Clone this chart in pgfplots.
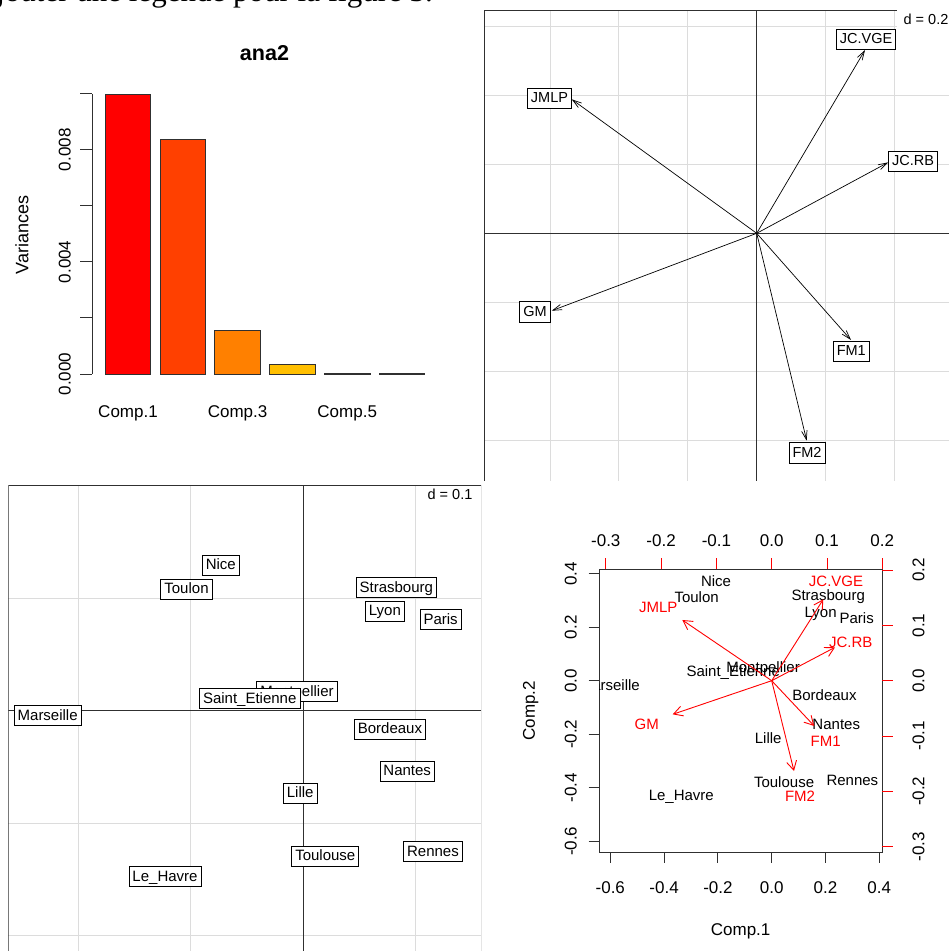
\documentclass[border=0pt]{standalone}
\usepackage{fontspec}
\setmainfont{Liberation Sans}
\newfontfamily\seriffont{Liberation Serif}
\usepackage{pgfplots}
\usepackage{pgfplotstable}
\pgfplotsset{compat=1.18}
\usetikzlibrary{arrows.meta}
\newcommand{\fs}[1]{\fontsize{#1}{#1}\selectfont}
\definecolor{heatA}{HTML}{FF0000}
\definecolor{heatB}{HTML}{FF4000}
\definecolor{heatC}{HTML}{FF8000}
\definecolor{heatD}{HTML}{FFBF00}
\definecolor{gridgray}{HTML}{DCDCDC}
\definecolor{framecol}{HTML}{303030}
\definecolor{rred}{HTML}{FF0000}

\tikzset{
  boxlab/.style={anchor=center, draw=black, fill=white, line width=0.8pt,
    inner xsep=3.5pt, inner ysep=2.7pt, text height=11.8pt, text depth=3pt},
  biplab/.style={anchor=center, inner sep=0pt, text height=10.7pt, text depth=0pt, font=\fs{15}}
}

% variances of the components (bar chart)
\pgfplotstableread{
comp var
1 0.00999
2 0.00837
3 0.00157
4 0.00035
5 0.00001
6 0.00001
}\variances

% correlation circle: arrows (x,y)->(x+u,y+v), label positions
\pgfplotstableread{
x y u v lx ly label
0 0 -0.537 0.389 -0.6015 0.3927 JMLP
0 0 -0.595 -0.2247 -0.6436 -0.2284 GM
0 0 0.382 0.206 0.4537 0.209 JC.RB
0 0 0.3144 0.5321 0.3173 0.5631 JC.VGE
0 0 0.2737 -0.3097 0.2746 -0.3417 FM1
0 0 0.1451 -0.602 0.146 -0.6377 FM2
}\corcircle

% individuals on the factorial plane
\pgfplotstableread{
x y label
-0.2272 -0.0044 Marseille
0.0726 0.0884 Lyon
0.0196 -0.1293 Toulouse
-0.0733 0.1291 Nice
0.1221 0.0808 Paris
0.0827 0.1093 Strasbourg
-0.0027 -0.0733 Lille
0.0771 -0.0167 Bordeaux
0.0924 -0.0538 Nantes
-0.1038 0.1079 Toulon
-0.1229 -0.1476 Le\_Havre
-0.0056 0.0168 Montpellier
-0.0476 0.0106 Saint\_Etienne
0.1153 -0.1253 Rennes
}\individus

% biplot: individuals (primary scale)
\pgfplotstableread{
x y label
-0.602 -0.016 Marseille
0.182 0.258 Lyon
0.046 -0.380 Toulouse
-0.207 0.372 Nice
0.316 0.233 Paris
0.210 0.320 Strasbourg
-0.013 -0.215 Lille
0.196 -0.054 Bordeaux
0.240 -0.163 Nantes
-0.279 0.313 Toulon
-0.336 -0.427 Le\_Havre
-0.032 0.050 Montpellier
-0.143 0.034 Saint\_Etienne
0.300 -0.371 Rennes
}\bipind

% biplot: variables (secondary scale)
\pgfplotstableread{
x y u v lx ly label
0 0 0.0933 0.1472 0.1163 0.1808 JC.VGE
0 0 -0.1617 0.1098 -0.2051 0.1327 JMLP
0 0 0.1145 0.0604 0.1429 0.0694 JC.RB
0 0 -0.1790 -0.0608 -0.2260 -0.0788 GM
0 0 0.0770 -0.0819 0.0976 -0.1090 FM1
0 0 0.0403 -0.1633 0.0512 -0.2085 FM2
}\bipvar

\begin{document}
\begin{tikzpicture}
\fill[white] (0pt,0pt) rectangle (949pt,951pt);
\begin{pgfinterruptboundingbox}

% cut-off document text (only its lowest part is on the page)
\begin{scope}
\clip (0pt,900pt) rectangle (949pt,951pt);
\node[anchor=base east, inner sep=0pt, font=\seriffont\fs{31}] at (433pt,949.5pt) {Ajouter une légende pour la figure 3.};
\end{scope}

% ---------------- Panel 1: bar chart ----------------
\begin{axis}[
  at={(92pt,577pt)}, anchor=south west,
  scale only axis, width=342.9pt, height=280.3pt,
  xmin=0.343, xmax=6.6, ymin=0, ymax=0.01,
  axis x line*=bottom, axis y line*=left,
  x axis line style={draw=none},
  y axis line style={framecol, line width=0.9pt},
  xtick={1,3,5}, xticklabels={Comp.1,Comp.3,Comp.5},
  xtick style={draw=none},
  ytick={0,0.002,0.004,0.006,0.008,0.01},
  yticklabels={0.000,{},0.004,{},0.008,{}},
  scaled y ticks=false,
  ytick style={framecol, line width=0.9pt},
  tick align=outside, major tick length=11.7pt,
  xticklabel style={font=\fs{17}, anchor=base, inner sep=0pt, yshift=-32pt},
  yticklabel style={font=\fs{17}, xshift=-9.6pt, rotate=90, anchor=base, inner sep=0pt},
  title={ana2},
  title style={font=\bfseries\fs{21.5}, at={(axis description cs:0.503,1.1202)}, anchor=base, inner sep=0pt, yshift=-6pt},
  ylabel={Variances},
  ylabel style={font=\fs{18}, at={(axis description cs:-0.1858,0.496)}, anchor=base, inner sep=0pt},
  clip=false,
]
\addplot[ybar, bar width=45.7pt, bar shift=0pt, fill=heatA, draw=framecol, line width=0.9pt] table[x=comp,y=var, restrict x to domain=1:1] {\variances};
\addplot[ybar, bar width=45.7pt, bar shift=0pt, fill=heatB, draw=framecol, line width=0.9pt] table[x=comp,y=var, restrict x to domain=2:2] {\variances};
\addplot[ybar, bar width=45.7pt, bar shift=0pt, fill=heatC, draw=framecol, line width=0.9pt] table[x=comp,y=var, restrict x to domain=3:3] {\variances};
\addplot[ybar, bar width=45.7pt, bar shift=0pt, fill=heatD, draw=framecol, line width=0.9pt] table[x=comp,y=var, restrict x to domain=4:4] {\variances};
\addplot[ybar, bar width=45.7pt, bar shift=0pt, fill=yellow, draw=framecol, line width=0.9pt] table[x=comp,y=var, restrict x to domain=5:5] {\variances};
\addplot[ybar, bar width=45.7pt, bar shift=0pt, fill=yellow!50, draw=framecol, line width=0.9pt] table[x=comp,y=var, restrict x to domain=6:6] {\variances};
\end{axis}

% ---------------- Panel 2: correlation circle ----------------
\begin{axis}[
  at={(484pt,470pt)}, anchor=south west,
  scale only axis, width=465pt, height=470.9pt,
  xmin=-0.7916, xmax=0.5582, ymin=-0.719, ymax=0.648,
  axis line style={draw=none},
  xtick={-0.6,-0.4,-0.2,0.2,0.4}, ytick={-0.6,-0.4,-0.2,0.2,0.4,0.6},
  xticklabels={}, yticklabels={},
  major tick length=0pt,
  grid=major, grid style={gridgray, line width=1pt},
]
\addplot[framecol, line width=1pt] coordinates {(-0.7916,0) (0.5582,0)};
\addplot[framecol, line width=1pt] coordinates {(0,-0.719) (0,0.648)};
\draw[framecol, line width=0.9pt] (rel axis cs:1,0) -- (rel axis cs:0,0) -- (rel axis cs:0,1) -- (rel axis cs:1,1);
\addplot[black, line width=0.7pt, -{Straight Barb[length=9pt,width=5.5pt]},
  quiver={u=\thisrow{u}, v=\thisrow{v}}] table[x=x,y=y] {\corcircle};
\addplot[draw=none, mark=none, nodes near coords, point meta=explicit symbolic,
  every node near coord/.append style={boxlab, font=\fs{14.5}}]
  table[x=lx,y=ly,meta=label] {\corcircle};
\end{axis}
\fill[white] (897pt,922pt) rectangle (948.5pt,940.5pt);
\node[anchor=base east, inner sep=0pt, font=\fs{14.5}] at (948.6pt,926pt) {d = 0.2};

% ---------------- Panel 3: individuals ----------------
\begin{axis}[
  at={(8.3pt,0pt)}, anchor=south west,
  scale only axis, width=472.7pt, height=466pt,
  xmin=-0.2622, xmax=0.158, ymin=-0.2136, ymax=0.2006,
  axis line style={draw=none},
  xtick={-0.2,-0.1,0.1}, ytick={-0.2,-0.1,0.1},
  xticklabels={}, yticklabels={},
  major tick length=0pt,
  grid=major, grid style={gridgray, line width=1pt},
]
\addplot[framecol, line width=1pt] coordinates {(-0.2622,0) (0.158,0)};
\addplot[framecol, line width=1pt] coordinates {(0,-0.2136) (0,0.2006)};
\draw[framecol, line width=0.9pt] (rel axis cs:0,0) -- (rel axis cs:0,1) -- (rel axis cs:1,1) -- (rel axis cs:1,0);
\addplot[draw=none, mark=none, nodes near coords, point meta=explicit symbolic,
  every node near coord/.append style={boxlab, font=\fs{15}}]
  table[x=x,y=y,meta=label] {\individus};
\end{axis}
\node[anchor=base, inner sep=0pt, font=\fs{14.5}] at (450pt,451pt) {d = 0.1};

% ---------------- Panel 4: biplot ----------------
\begin{axis}[
  at={(599pt,98.7pt)}, anchor=south west,
  scale only axis, width=283.3pt, height=283.3pt,
  xmin=-0.642, xmax=0.4112, ymin=-0.6415, ymax=0.4176,
  axis line style={framecol, line width=0.9pt},
  tick pos=left, tick align=outside, major tick length=10.5pt,
  tick style={framecol, line width=0.9pt},
  xtick={-0.6,-0.4,-0.2,0,0.2,0.4}, xticklabels={-0.6,-0.4,-0.2,0.0,0.2,0.4},
  ytick={-0.6,-0.4,-0.2,0,0.2,0.4}, yticklabels={-0.6,-0.4,-0.2,0.0,0.2,0.4},
  xticklabel style={font=\fs{17}, anchor=base, inner sep=0pt, yshift=-30.5pt},
  yticklabel style={font=\fs{17}, xshift=-11.8pt, rotate=90, anchor=base, inner sep=0pt},
  xlabel={Comp.1}, ylabel={Comp.2},
  xlabel style={font=\fs{17}, at={(axis description cs:0.5,-0.292)}, anchor=base, inner sep=0pt},
  ylabel style={font=\fs{17}, at={(axis description cs:-0.226,0.5)}, anchor=base, inner sep=0pt},
  clip marker paths=true,
]
\addplot[draw=none, mark=none, nodes near coords, point meta=explicit symbolic,
  every node near coord/.append style={biplab, text=black}]
  table[x=x,y=y,meta=label] {\bipind};
\end{axis}
\begin{axis}[
  at={(599pt,98.7pt)}, anchor=south west,
  scale only axis, width=283.3pt, height=283.3pt,
  xmin=-0.3123, xmax=0.2, ymin=-0.3103, ymax=0.202,
  axis x line*=top, axis y line*=right,
  axis line style={draw=none},
  tick align=outside, major tick length=10.5pt,
  tick style={rred, line width=0.9pt},
  xtick={-0.3,-0.2,-0.1,0,0.1,0.2}, xticklabels={-0.3,-0.2,-0.1,0.0,0.1,0.2},
  ytick={-0.3,-0.2,-0.1,0,0.1,0.2}, yticklabels={-0.3,-0.2,-0.1,0.0,0.1,0.2},
  xticklabel style={font=\fs{17}, anchor=base, inner sep=0pt, yshift=11.8pt},
  yticklabel style={font=\fs{17}, xshift=31.5pt, rotate=90, anchor=base, inner sep=0pt},
]
\addplot[rred, line width=0.9pt, -{Straight Barb[length=9pt,width=10pt]},
  quiver={u=\thisrow{u}, v=\thisrow{v}}] table[x=x,y=y] {\bipvar};
\addplot[draw=none, mark=none, nodes near coords, point meta=explicit symbolic,
  every node near coord/.append style={biplab, text=rred}]
  table[x=lx,y=ly,meta=label] {\bipvar};
\end{axis}
\end{pgfinterruptboundingbox}
\end{tikzpicture}
\end{document}
